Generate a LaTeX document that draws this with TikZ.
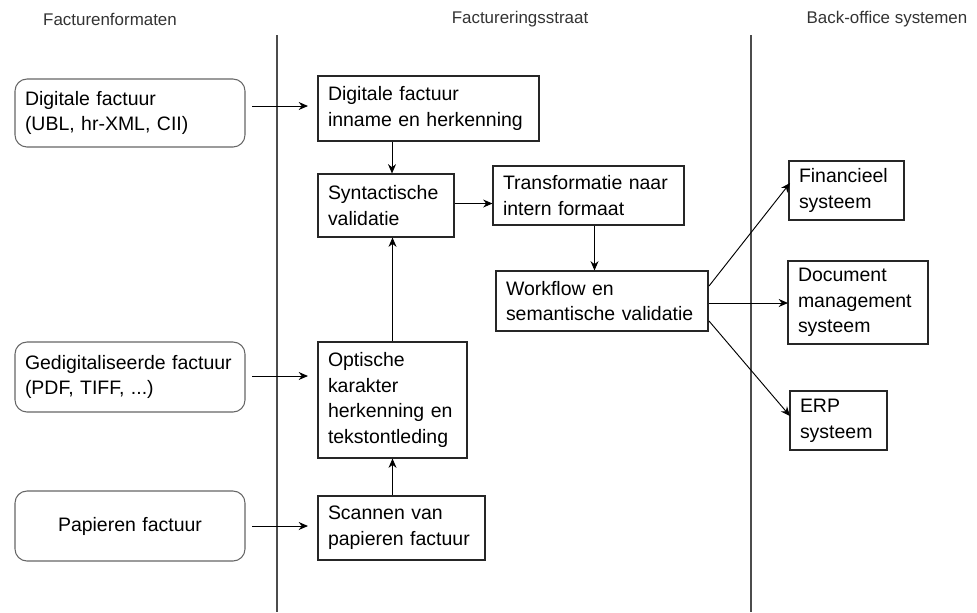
\documentclass[tikz,border=0pt]{standalone}
\usepackage{fontspec}
\setmainfont{Liberation Sans}
\usetikzlibrary{arrows.meta}
\begin{document}
\begin{tikzpicture}[x=0.75pt,y=-0.75pt,
  box/.style={draw=black!85, line width=0.8pt, inner xsep=7.5pt, inner ysep=0pt,
    align=left, font=\fontsize{14.6}{19.3}\selectfont, anchor=center},
  rbox/.style={box, draw=black!60, rounded corners=9pt},
  hdr/.style={font=\fontsize{12.7}{15}\selectfont, text=black!80, anchor=center, inner sep=0pt},
  lane/.style={draw=black!70, line width=0.8pt},
  arr/.style={draw=black, line width=0.7pt, -{Stealth[length=7pt,width=6pt]}}]
\useasboundingbox (0,0) rectangle (977,612);
% headers
\node[hdr] (h1) at (110,19) {Facturenformaten};
\node[hdr] (h2) at (520,19) {Factureringsstraat};
\node[hdr] (h3) at (887,19) {Back-office systemen};
% lanes
\coordinate (l1t) at (277,35); \coordinate (l1b) at (277,612);
\coordinate (l2t) at (751,35); \coordinate (l2b) at (751,612);
\draw[lane] (l1t) -- (l1b);
\draw[lane] (l2t) -- (l2b);
% left rounded boxes
\node[rbox, minimum width=172.5pt, minimum height=51pt, text width=157.5pt] (dig) at (130,113)
  {Digitale factuur\\(UBL, hr-XML, CII)};
\node[rbox, minimum width=172.5pt, minimum height=52.5pt, text width=157.5pt] (ged) at (130,377)
  {Gedigitaliseerde factuur\\(PDF, TIFF, ...)};
\node[rbox, minimum width=172.5pt, minimum height=52.5pt, text width=157.5pt, align=center] (pap) at (130,526)
  {Papieren factuur};
% middle boxes
\node[box, minimum width=165.75pt, minimum height=48.75pt, text width=150.75pt] (inn) at (428.5,108.5)
  {Digitale factuur\\inname en herkenning};
\node[box, minimum width=102pt, minimum height=47.25pt, text width=87pt] (syn) at (386,205.5)
  {Syntactische\\validatie};
\node[box, minimum width=143.25pt, minimum height=44.25pt, text width=128.25pt] (tra) at (588.5,195.5)
  {Transformatie naar\\intern formaat};
\node[box, minimum width=159pt, minimum height=45pt, text width=144pt] (wf) at (602,301)
  {Workflow en\\semantische validatie};
\node[box, minimum width=111.75pt, minimum height=87pt, text width=96.75pt] (opt) at (392.5,400)
  {Optische\\karakter\\herkenning en\\tekstontleding};
\node[box, minimum width=125.25pt, minimum height=48pt, text width=110.25pt] (sca) at (401.5,528)
  {Scannen van\\papieren factuur};
% right boxes
\node[box, minimum width=86.25pt, minimum height=44.25pt, text width=71.25pt] (fin) at (846.5,190.5)
  {Financieel\\systeem};
\node[box, minimum width=105pt, minimum height=62.25pt, text width=90pt] (doc) at (858,302.5)
  {Document\\management\\systeem};
\node[box, minimum width=72.75pt, minimum height=44.25pt, text width=57.75pt] (erp) at (838.5,420.5)
  {ERP\\systeem};
% connectors
\coordinate (a1s) at (252,106); \coordinate (a1e) at (308,106);
\coordinate (a2s) at (252,376); \coordinate (a2e) at (308,376);
\coordinate (a3s) at (252,526); \coordinate (a3e) at (308,526);
\draw[arr] (a1s) -- (a1e);
\draw[arr] (a2s) -- (a2e);
\draw[arr] (a3s) -- (a3e);
\draw[arr] (inn.south -| syn.north) ++(6,0) coordinate (t1) (t1) -- (t1 |- syn.north);
\draw[arr] (opt.north) -- (opt.north |- syn.south);
\draw[arr] (sca.north -| opt.south) -- (opt.south);
\draw[arr] (syn.east) ++(0,-2) coordinate (t2) (t2) -- (t2 -| tra.west);
\draw[arr] (tra.south) ++(6,0) coordinate (t3) (t3) -- (t3 |- wf.north);
\coordinate (w1) at (709,286); \coordinate (f1) at (790,183);
\coordinate (w2) at (709,303); \coordinate (d1) at (788,303);
\coordinate (w3) at (709,321); \coordinate (e1) at (790,416);
\draw[arr] (w1) -- (f1);
\draw[arr] (w2) -- (d1);
\draw[arr] (w3) -- (e1);
\end{tikzpicture}
\end{document}
